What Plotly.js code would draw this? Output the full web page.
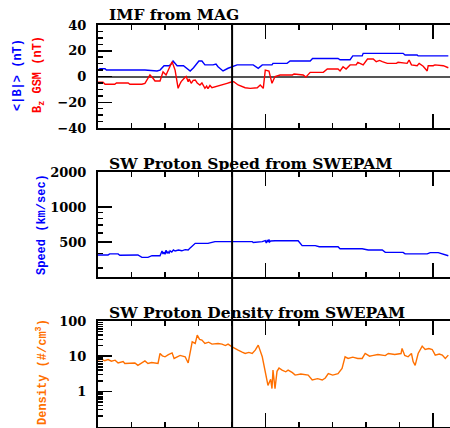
<!DOCTYPE html>
<html>
<head>
<meta charset="utf-8">
<script src="https://cdn.plot.ly/plotly-3.0.1.min.js"></script>
<style>html,body{margin:0;padding:0;background:#fff;overflow:hidden;}#chart{width:450px;height:428px;}</style>
</head>
<body>
<div id="chart"></div>
<script>
// ---- Data (time in hours from left edge of plot) ----
const btTime = [0,0.06,0.21,0.25,1.40,1.76,1.85,1.91,1.97,2.12,2.20,2.24,2.30,2.36,2.55,2.65,2.75,2.85,2.95,3.01,3.10,3.19,3.43,3.52,3.58,3.73,3.88,4.15,4.63,4.70,4.78,4.90,5.19,5.22,5.64,5.73,6.33,6.40,7.16,7.22,7.52,7.60,7.88,7.91,9.10,9.16,9.52,9.55,10.45];
const btVals = [5,6,6,5,5,4.3,5,6.8,8.4,8.4,10,12,10,8.4,8.4,6.5,4.3,6.8,10,12,12,9,9,9.7,7.6,4.3,6.4,9,9,8,6.4,9,9,10.2,10.2,12,12,14,14,13,13,16,16,18,18,16.7,16.7,16,16];

const bzTime = [0,0.15,0.21,0.5,0.55,0.9,0.95,1.31,1.40,1.49,1.55,1.64,1.70,1.85,1.94,2.03,2.15,2.21,2.30,2.39,2.44,2.48,2.55,2.63,2.69,2.72,2.78,2.84,2.90,2.96,3.04,3.10,3.19,3.24,3.28,3.34,3.40,3.49,3.60,3.70,3.85,3.95,4.05,4.18,4.30,4.39,4.54,4.65,4.75,4.84,4.90,4.93,4.99,5.10,5.19,5.28,5.43,5.8,5.85,6.12,6.20,6.33,6.72,6.84,7.16,7.22,7.31,7.40,7.52,7.7,7.75,7.91,8.04,8.21,8.30,8.40,8.48,8.63,8.9,8.95,9.22,9.28,9.35,9.52,9.58,9.70,9.82,9.85,10.0,10.05,10.30,10.45];
const bzVals = [-4.5,-4.5,-6,-6,-5,-5,-6,-6,-5.3,-1.4,1.2,-1.4,-3.5,-3.5,3.7,1.2,9,11.5,5,-9.2,-6,-4,-2,0,-4,-2,-5.3,-3,-2.7,-5,-6.6,-5,-9.2,-7.5,-9.5,-7,-8.7,-7.9,-7,-6.6,-5.3,-4.5,-4,-6.6,-7.5,-8.7,-9.2,-8.7,-8.7,-6.6,-8,-9.2,5,4.3,-5.3,0,1.2,1.2,2,1.2,-0.5,3.2,3.2,5.8,5.8,4.3,7.6,5.8,9,9,11,9,13.6,13.6,11.5,12.5,11.5,10.2,10.2,11,10.2,12.8,9,8.4,10.2,8,4.3,8.4,8.4,9,8.4,6.8];

const vTime = [0,0.3,0.35,0.6,0.65,1.0,1.05,1.19,1.31,1.49,1.61,1.85,1.91,1.94,1.97,2.00,2.03,2.06,2.09,2.12,2.15,2.20,2.25,2.30,2.40,2.50,2.60,2.69,2.75,2.90,3.28,3.49,4.60,4.63,4.90,4.99,5.02,5.05,5.08,5.10,5.12,5.15,5.28,5.97,6.09,6.48,6.60,7.16,7.22,7.50,7.55,7.88,8.06,8.48,8.57,9.10,9.16,9.82,9.91,10.15,10.45];
const vVals = [387,387,395,395,385,385,390,387,369,369,381,381,418,395,410,392,425,400,412,398,420,410,427,418,427,420,430,427,445,487,487,504,504,495,504,513,490,520,498,525,500,510,513,513,465,465,455,455,437,437,440,437,427,427,407,407,395,395,405,405,381];

const nTime = [0,0.1,0.2,0.3,0.4,0.51,0.60,0.75,0.8,1.10,1.19,1.30,1.40,1.49,1.60,1.79,1.85,1.92,2.00,2.10,2.21,2.27,2.36,2.45,2.60,2.69,2.81,2.90,2.96,3.03,3.10,3.19,3.30,3.40,3.58,3.70,3.80,3.88,4.00,4.10,4.18,4.30,4.39,4.50,4.60,4.69,4.78,4.90,4.99,5.07,5.15,5.19,5.22,5.28,5.34,5.40,5.49,5.60,5.67,5.80,5.88,6.05,6.27,6.39,6.55,6.69,6.78,6.87,7.00,7.16,7.28,7.37,7.46,7.60,7.75,7.88,7.97,8.10,8.18,8.35,8.57,8.66,8.85,9.04,9.07,9.15,9.25,9.35,9.40,9.46,9.55,9.67,9.76,9.87,9.97,10.06,10.18,10.27,10.36,10.45];
const nVals = [7.7,8.3,7.4,8.0,7.2,7.7,6.4,7.0,6.2,6.4,5.5,6.3,7.3,6.2,6.6,6.2,11.9,10.2,9.6,11.0,12.4,8.6,9.6,10.5,9.6,6.4,25.6,23,39.8,30,28.6,23,25,22,23,22,20,22,18.4,16,14.8,13,11.9,12.8,11.9,14.8,20.6,9.6,4,1.48,2.2,1.2,4,1.2,3.7,4.6,4,3.6,4,3.4,2.9,3.1,2.9,2.1,2.3,2.1,2.4,3.2,2.9,3.2,4.5,9.6,8.6,9.4,8.6,8.6,11.9,10.0,10.4,11.2,10.4,11.9,11.2,11.9,16.6,10.5,9.6,11.9,7.0,5.5,11.9,19.3,15.5,16.5,15.5,10.7,11.5,10.7,8.6,10.7];

const eventTime = 4.0;
const panelTitles = ["IMF from MAG", "SW Proton Speed from SWEPAM", "SW Proton Density from SWEPAM"];

// ---- Layout helpers ----
const H = 428, L = 98;
const py = p => (H - p) / H;            // pixel row -> paper y
const px = p => (p - L) / 352;          // pixel col -> paper x

const tickFont = {family: "DejaVu Serif", size: 13, color: "#000", weight: 700};
const titleFont = {family: "DejaVu Serif", size: 15.5, color: "#000", weight: 700};

function xAx(anchor) {
  return {anchor: anchor, domain: [0, 1], range: [0, 10.5], showline: true, linecolor: "#000", linewidth: 2,
    mirror: "ticks", ticks: "inside", ticklen: 14, tickwidth: 1.5, tickcolor: "#000",
    tickmode: "array", tickvals: [0, 5, 10], showticklabels: false, showgrid: false, zeroline: false,
    minor: {ticks: "inside", ticklen: 5, tickwidth: 1.5, tickcolor: "#000", dtick: 1, tick0: 0, showgrid: false}};
}
function yBase(dom) {
  return {domain: dom, showline: true, linecolor: "#000", linewidth: 2, mirror: false,
    ticks: "inside", ticklen: 14, tickwidth: 1.5, tickcolor: "#000", showgrid: false,
    tickfont: tickFont, ticklabelstandoff: 7};
}

const y1 = Object.assign(yBase([py(128), py(25)]), {anchor: "x", range: [-40, 40], tickmode: "array",
  tickvals: [-40, -20, 0, 20, 40], zeroline: true, zerolinecolor: "#555", zerolinewidth: 2,
  minor: {ticks: "inside", ticklen: 5, tickwidth: 1.5, tickcolor: "#000", dtick: 5, tick0: 0, showgrid: false}});
const y2 = Object.assign(yBase([py(277), py(172)]), {anchor: "x2", type: "log", range: [Math.log10(250), Math.log10(2000)],
  tickmode: "array", tickvals: [500, 1000, 2000], ticktext: ["500", "1000", "2000"], zeroline: false,
  minor: {ticks: "inside", ticklen: 5, tickwidth: 1.5, tickcolor: "#000", tickmode: "array",
    tickvals: [300, 400, 600, 700, 800, 900], showgrid: false}});
const minorLog = [];
[0.1, 1, 10].forEach(d => { for (let k = 2; k <= 9; k++) minorLog.push(+(k * d).toFixed(2)); });
const y3 = Object.assign(yBase([py(426.5), py(321)]), {anchor: "x3", type: "log", range: [-1, 2],
  tickmode: "array", tickvals: [0.1, 1, 10, 100], ticktext: ["0.1", "1", "10", "100"], zeroline: false,
  minor: {ticks: "inside", ticklen: 5, tickwidth: 1.5, tickcolor: "#000", tickmode: "array",
    tickvals: minorLog, showgrid: false}});

const traces = [
  {x: btTime, y: btVals, xaxis: "x", yaxis: "y", mode: "lines", line: {color: "#0000ff", width: 1.4}, hoverinfo: "skip"},
  {x: bzTime, y: bzVals, xaxis: "x", yaxis: "y", mode: "lines", line: {color: "#ff0000", width: 1.4}, hoverinfo: "skip"},
  {x: vTime, y: vVals, xaxis: "x2", yaxis: "y2", mode: "lines", line: {color: "#0000ff", width: 1.4}, hoverinfo: "skip"},
  {x: nTime, y: nVals, xaxis: "x3", yaxis: "y3", mode: "lines", line: {color: "#ff7000", width: 1.4}, hoverinfo: "skip"}
];

const axTitleFont = (c) => ({family: "Liberation Mono", size: 12, color: c, weight: 700});
const annotations = [
  {text: panelTitles[0], x: px(107), y: py(15), xanchor: "left", yanchor: "middle"},
  {text: panelTitles[1], x: px(107), y: py(163), xanchor: "left", yanchor: "middle"},
  {text: panelTitles[2], x: px(107), y: py(312), xanchor: "left", yanchor: "middle"}
].map(a => Object.assign(a, {xref: "paper", yref: "paper", showarrow: false, font: titleFont}));
annotations.push(
  {text: "&lt;|B|&gt; (nT)", x: px(18), y: py(75), textangle: -90, font: axTitleFont("#0000ff")},
  {text: "B<sub>z</sub> GSM (nT)", x: px(39), y: py(75), textangle: -90, font: axTitleFont("#ff0000")},
  {text: "Speed (km/sec)", x: px(42), y: py(225), textangle: -90, font: axTitleFont("#0000ff")},
  {text: "Density (#/cm<sup>3</sup>)", x: px(42), y: py(372), textangle: -90, font: axTitleFont("#ff7000")}
);
annotations.forEach(a => { if (!a.xref) Object.assign(a, {xref: "paper", yref: "paper", showarrow: false, xanchor: "center", yanchor: "middle"}); });

const layout = {
  width: 450, height: 428, margin: {l: L, r: 0, t: 0, b: 0}, showlegend: false,
  paper_bgcolor: "#fff", plot_bgcolor: "#fff",
  xaxis: xAx("y"), xaxis2: xAx("y2"), xaxis3: xAx("y3"),
  yaxis: y1, yaxis2: y2, yaxis3: y3,
  annotations: annotations,
  shapes: [{type: "line", xref: "x", yref: "paper", x0: eventTime, x1: eventTime, y0: 0, y1: py(25),
    line: {color: "#000", width: 2}}]
};

Plotly.newPlot("chart", traces, layout, {staticPlot: true, displayModeBar: false});
</script>
</body>
</html>
